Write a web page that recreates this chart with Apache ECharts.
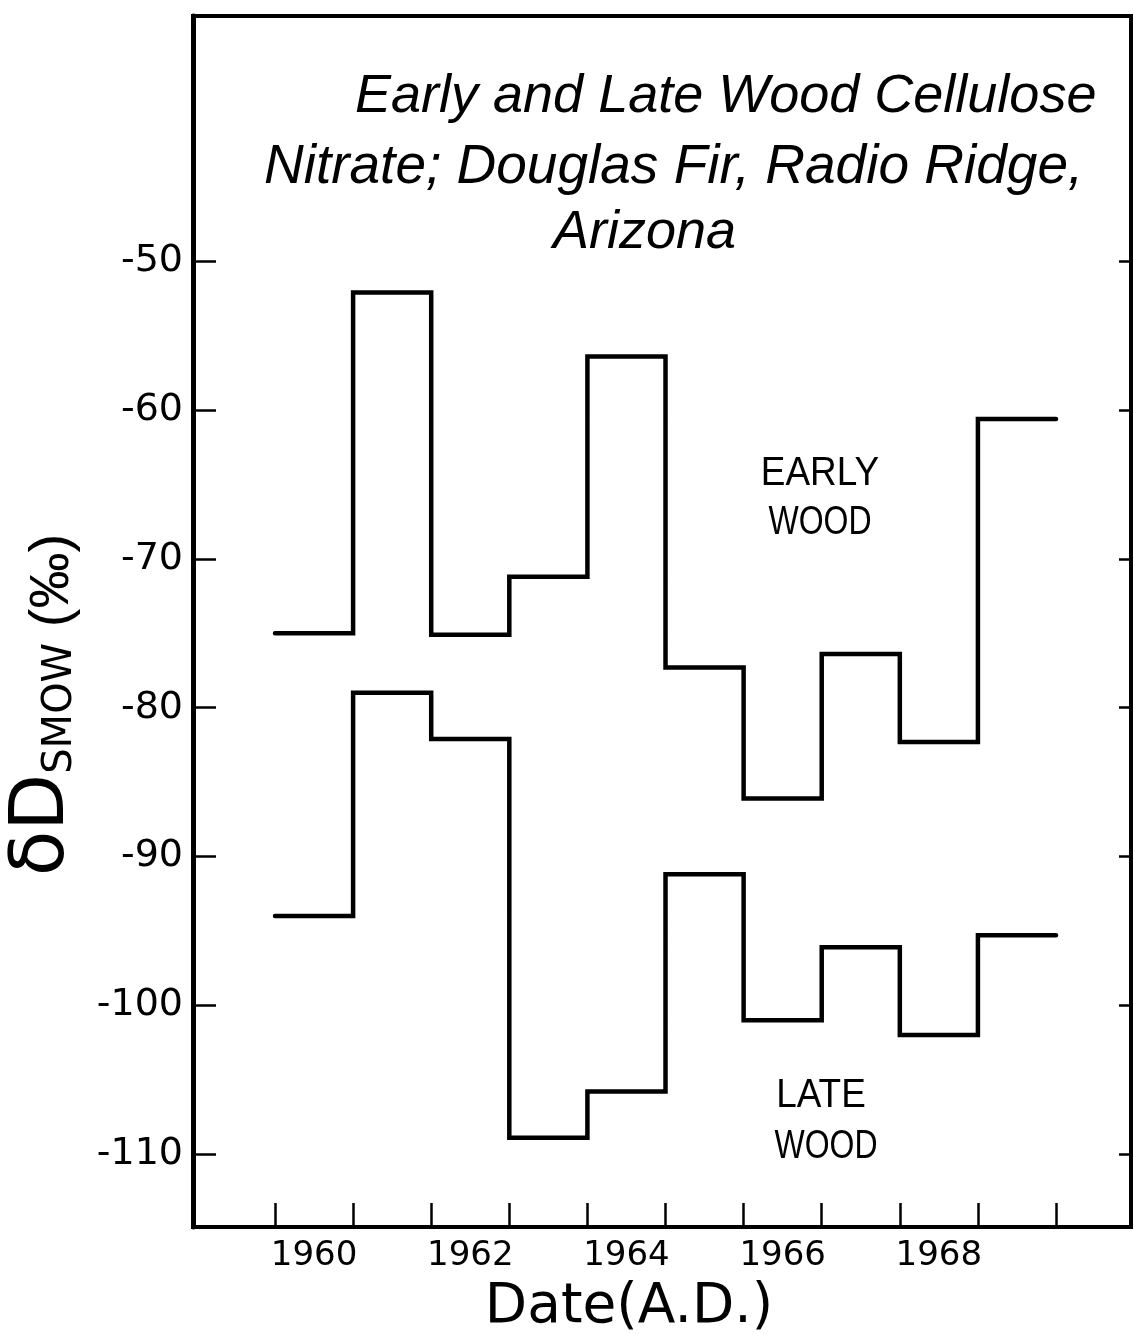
<!DOCTYPE html>
<html><head><meta charset="utf-8">
<script src="https://cdn.jsdelivr.net/npm/echarts@6/dist/echarts.min.js"></script>
<style>html,body{margin:0;padding:0;background:#fff}#c{width:1134px;height:1334px}</style>
</head><body><div id="c"></div>
<script>
// ---- data ----
const years = [1960, 1961, 1962, 1963, 1964, 1965, 1966, 1967, 1968, 1969];
const earlyWood = [-75.0, -52.1, -75.1, -71.2, -56.4, -77.3, -86.1, -76.4, -82.3, -60.6];
const lateWood = [-94.0, -79.0, -82.1, -108.9, -105.8, -91.2, -101.0, -96.1, -102.0, -95.3];
const yTickValues = [-110, -100, -90, -80, -70, -60, -50];
const xLabelYears = [1960, 1962, 1964, 1966, 1968];
const titleLines = ['Early and Late Wood Cellulose', 'Nitrate; Douglas Fir, Radio Ridge,', 'Arizona'];
const xAxisTitle = 'Date(A.D.)';

// year boundaries (each year is a step from y-0.5 to y+0.5)
const xTickBoundaries = years.map(y => y - 0.5).concat([years[years.length - 1] + 0.5]);
function stepData(vals) {
  const d = years.map((y, i) => [y - 0.5, vals[i]]);
  d.push([years[years.length - 1] + 0.5, vals[vals.length - 1]]);
  return d;
}

const chart = echarts.init(document.getElementById('c'), null, {renderer: 'canvas'});
const black = '#000';
const numFont = 'DejaVu Sans';

chart.setOption({
  animation: false,
  backgroundColor: '#fff',
  grid: {left: 193, right: 3, top: 16, bottom: 107, show: true, borderColor: black, borderWidth: 4, backgroundColor: 'transparent'},
  xAxis: {
    type: 'value', min: 1958.45, max: 1970.46,
    axisLine: {show: true, onZero: false, lineStyle: {color: black, width: 4}},
    axisTick: {show: true, inside: true, length: 24, lineStyle: {color: black, width: 2.5}, customValues: xTickBoundaries},
    axisLabel: {show: true, customValues: xLabelYears, formatter: v => String(v), fontFamily: numFont, fontSize: 34, color: black, margin: 12},
    splitLine: {show: false}
  },
  yAxis: [{
    type: 'value', min: -114.9, max: -33.52, position: 'left',
    axisLine: {show: true, onZero: false, lineStyle: {color: black, width: 5}},
    axisTick: {show: true, inside: true, length: 23, lineStyle: {color: black, width: 2.5}, customValues: yTickValues},
    axisLabel: {show: true, customValues: yTickValues, formatter: v => String(v), fontFamily: numFont, fontSize: 38, color: black, margin: 10},
    splitLine: {show: false}
  }, {
    type: 'value', min: -114.9, max: -33.52, position: 'right',
    axisLine: {show: false},
    axisTick: {show: true, inside: true, length: 12, lineStyle: {color: black, width: 2.5}, customValues: yTickValues},
    axisLabel: {show: false},
    splitLine: {show: false}
  }],
  series: [{
    name: 'Early wood', type: 'line', step: 'end', data: stepData(earlyWood),
    showSymbol: false, symbol: 'none', yAxisIndex: 0,
    lineStyle: {color: black, width: 4.5, join: 'miter', cap: 'round'}
  }, {
    name: 'Late wood', type: 'line', step: 'end', data: stepData(lateWood),
    showSymbol: false, symbol: 'none', yAxisIndex: 0,
    lineStyle: {color: black, width: 4.5, join: 'miter', cap: 'round'}
  }],
  graphic: [
    {type: 'text', left: 355, top: 70, style: {text: titleLines[0], font: 'italic 54px "Liberation Sans"', fill: black}},
    {type: 'text', left: 264, top: 140, style: {text: titleLines[1], font: 'italic 55px "Liberation Sans"', fill: black}},
    {type: 'text', left: 553, top: 206, style: {text: titleLines[2], font: 'italic 54px "Liberation Sans"', fill: black}},
    {type: 'text', x: 820, y: 474, scaleX: 0.9, style: {text: 'EARLY', font: '41px "Liberation Sans"', fill: black, align: 'center', verticalAlign: 'middle'}},
    {type: 'text', x: 820, y: 523, scaleX: 0.78, style: {text: 'WOOD', font: '41px "Liberation Sans"', fill: black, align: 'center', verticalAlign: 'middle'}},
    {type: 'text', x: 821, y: 1096, scaleX: 0.9, style: {text: 'LATE', font: '41px "Liberation Sans"', fill: black, align: 'center', verticalAlign: 'middle'}},
    {type: 'text', x: 826, y: 1147, scaleX: 0.78, style: {text: 'WOOD', font: '41px "Liberation Sans"', fill: black, align: 'center', verticalAlign: 'middle'}},
    {type: 'text', x: 629, y: 1308, style: {text: xAxisTitle, font: '55px "DejaVu Sans"', fill: black, align: 'center', verticalAlign: 'middle'}},
    {type: 'text', x: 44, y: 705, rotation: Math.PI / 2, style: {
      text: '{a|δD}{b|SMOW}{c| (‰)}', align: 'center', verticalAlign: 'middle', fill: black,
      rich: {
        a: {fontFamily: 'DejaVu Sans', fontSize: 74, lineHeight: 74, verticalAlign: 'bottom', fill: black},
        b: {fontFamily: 'DejaVu Sans', fontSize: 40, lineHeight: 40, verticalAlign: 'bottom', fill: black},
        c: {fontFamily: 'Liberation Sans', fontSize: 56, lineHeight: 56, verticalAlign: 'bottom', fill: black}
      }
    }}
  ]
});
</script>
</body></html>
